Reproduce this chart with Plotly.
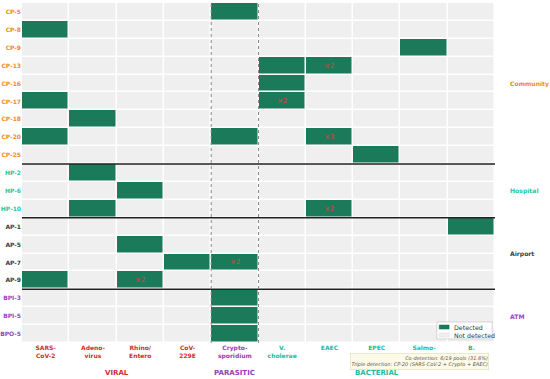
import plotly.graph_objects as go

pools = ["CP-5","CP-8","CP-9","CP-13","CP-16","CP-17","CP-18","CP-20","CP-25",
         "HP-2","HP-6","HP-10",
         "AP-1","AP-5","AP-7","AP-9",
         "BPI-3","BPI-5","BPO-5"]
pool_groups = ["Community"]*9 + ["Hospital"]*3 + ["Airport"]*4 + ["ATM"]*3
pathogens = ["SARS-<br>CoV-2","Adeno-<br>virus","Rhino/<br>Entero","CoV-<br>229E","Crypto-<br>sporidium",
             "V.<br>cholerae","EAEC","EPEC","Salmo-<br>nella","B.<br>pertussis"]
pathogen_groups = ["VIRAL"]*4 + ["PARASITIC"] + ["BACTERIAL"]*5

# detection matrix (rows = pools, cols = pathogens)
detected = [
    [0,0,0,0,1,0,0,0,0,0],  # CP-5
    [1,0,0,0,0,0,0,0,0,0],  # CP-8
    [0,0,0,0,0,0,0,0,1,0],  # CP-9
    [0,0,0,0,0,1,1,0,0,0],  # CP-13
    [0,0,0,0,0,1,0,0,0,0],  # CP-16
    [1,0,0,0,0,1,0,0,0,0],  # CP-17
    [0,1,0,0,0,0,0,0,0,0],  # CP-18
    [1,0,0,0,1,0,1,0,0,0],  # CP-20
    [0,0,0,0,0,0,0,1,0,0],  # CP-25
    [0,1,0,0,0,0,0,0,0,0],  # HP-2
    [0,0,1,0,0,0,0,0,0,0],  # HP-6
    [0,1,0,0,0,0,1,0,0,0],  # HP-10
    [0,0,0,0,0,0,0,0,0,1],  # AP-1
    [0,0,1,0,0,0,0,0,0,0],  # AP-5
    [0,0,0,1,1,0,0,0,0,0],  # AP-7
    [1,0,1,0,0,0,0,0,0,0],  # AP-9
    [0,0,0,0,1,0,0,0,0,0],  # BPI-3
    [0,0,0,0,1,0,0,0,0,0],  # BPI-5
    [0,0,0,0,1,0,0,0,0,0],  # BPO-5
]

legend_labels = ["Detected", "Not detected"]

GREEN = "#1b7a5a"
GREY = "#efefef"
group_colors = {"Community": "#f0892a", "Hospital": "#1fc4a0", "Airport": "#2c3e50", "ATM": "#9b3fc0",
                "VIRAL": "#cc2f2f", "PARASITIC": "#8e44ad", "BACTERIAL": "#1abc9c"}

fig = go.Figure()
fig.add_trace(go.Heatmap(
    z=detected, x=list(range(len(pathogens))), y=list(range(len(pools))),
    colorscale=[[0, GREY], [0.5, GREY], [0.5, GREEN], [1, GREEN]],
    zmin=0, zmax=1, showscale=False, xgap=1.5, ygap=1.5, hoverinfo="skip"))

ann = []
# multiplicity labels
for i, row in enumerate(detected):
    n = sum(row)
    if n >= 2:
        last = max(j for j, v in enumerate(row) if v)
        ann.append(dict(x=last, y=i, text="×%d" % n, showarrow=False,
                        font=dict(size=7, color="#e03a3a")))

def span(groups, name):
    idx = [i for i, g in enumerate(groups) if g == name]
    return (idx[0] + idx[-1]) / 2

for g in ["Community", "Hospital", "Airport", "ATM"]:
    ann.append(dict(x=1.028, xref="paper", y=span(pool_groups, g), yref="y", text="<b>%s</b>" % g,
                    showarrow=False, xanchor="left", yanchor="middle",
                    font=dict(size=6.1, color=group_colors[g])))
for g in ["VIRAL", "PARASITIC", "BACTERIAL"]:
    ann.append(dict(x=span(pathogen_groups, g), xref="x", y=-0.088, yref="paper", text="<b>%s</b>" % g,
                    showarrow=False, yanchor="middle", font=dict(size=7, color=group_colors[g])))

ann.append(dict(x=0.988, xref="paper", y=-0.028, yref="paper", xanchor="right", yanchor="top",
                text="<i>Co-detection: 6/19 pools (31.6%)</i><br><i>Triple detection: CP-20 (SARS-CoV-2 + Crypto + EAEC)</i>",
                align="right", showarrow=False, font=dict(size=5, color="#555555"),
                bgcolor="#fdfbe8", bordercolor="#d8d4b0", borderwidth=0.5, borderpad=1))

shapes = []
for i in range(1, len(pool_groups)):
    if pool_groups[i] != pool_groups[i - 1]:
        shapes.append(dict(type="line", xref="paper", x0=0, x1=1, y0=i - 0.5, y1=i - 0.5,
                           line=dict(color="#222222", width=1.5)))
par = pathogen_groups.index("PARASITIC")
for xv in [par - 0.5, par + 0.5]:
    shapes.append(dict(type="line", yref="paper", y0=0, y1=1, x0=xv, x1=xv,
                       line=dict(color="#888888", width=1, dash="dot")))

# manual legend (paper coords)
shapes.append(dict(type="rect", xref="paper", yref="paper", x0=0.877, x1=0.994, y0=0.012, y1=0.062,
                   fillcolor="white", line=dict(color="#cccccc", width=0.8), layer="above"))
sw_colors = [GREEN, GREY]
sw_y = [0.047, 0.0235]
for c, yy, lab in zip(sw_colors, sw_y, legend_labels):
    shapes.append(dict(type="rect", xref="paper", yref="paper", x0=0.882, x1=0.903, y0=yy - 0.006, y1=yy + 0.006,
                       fillcolor=c, line=dict(color="#dddddd" if c == GREY else c, width=0.5), layer="above"))
    ann.append(dict(x=0.910, xref="paper", y=yy, yref="paper", text=lab, xanchor="left", yanchor="middle",
                    showarrow=False, font=dict(size=6.3, color="#333333")))

ytext = ["<b><span style='color:%s'>%s</span></b>" % (group_colors[g], p) for p, g in zip(pools, pool_groups)]
xtext = ["<b><span style='color:%s'>%s</span></b>" % (group_colors[g], p) for p, g in zip(pathogens, pathogen_groups)]

fig.update_layout(
    width=550, height=379,
    margin=dict(l=22, r=55, t=3, b=36),
    paper_bgcolor="white", plot_bgcolor="white",
    font=dict(family="DejaVu Sans", size=6),
    xaxis=dict(tickmode="array", tickvals=list(range(len(pathogens))), ticktext=xtext,
               range=[-0.5, len(pathogens) - 0.5], showgrid=False, zeroline=False, ticks="",
               tickangle=0, automargin=False),
    yaxis=dict(tickmode="array", tickvals=list(range(len(pools))), ticktext=ytext,
               range=[len(pools) - 0.5, -0.5], showgrid=False, zeroline=False, ticks="",
               automargin=False),
    annotations=ann, shapes=shapes, showlegend=False,
)
fig.write_html("out.html", config={"displayModeBar": False},
               post_script="document.body.style.margin='0';document.body.style.padding='0';")
